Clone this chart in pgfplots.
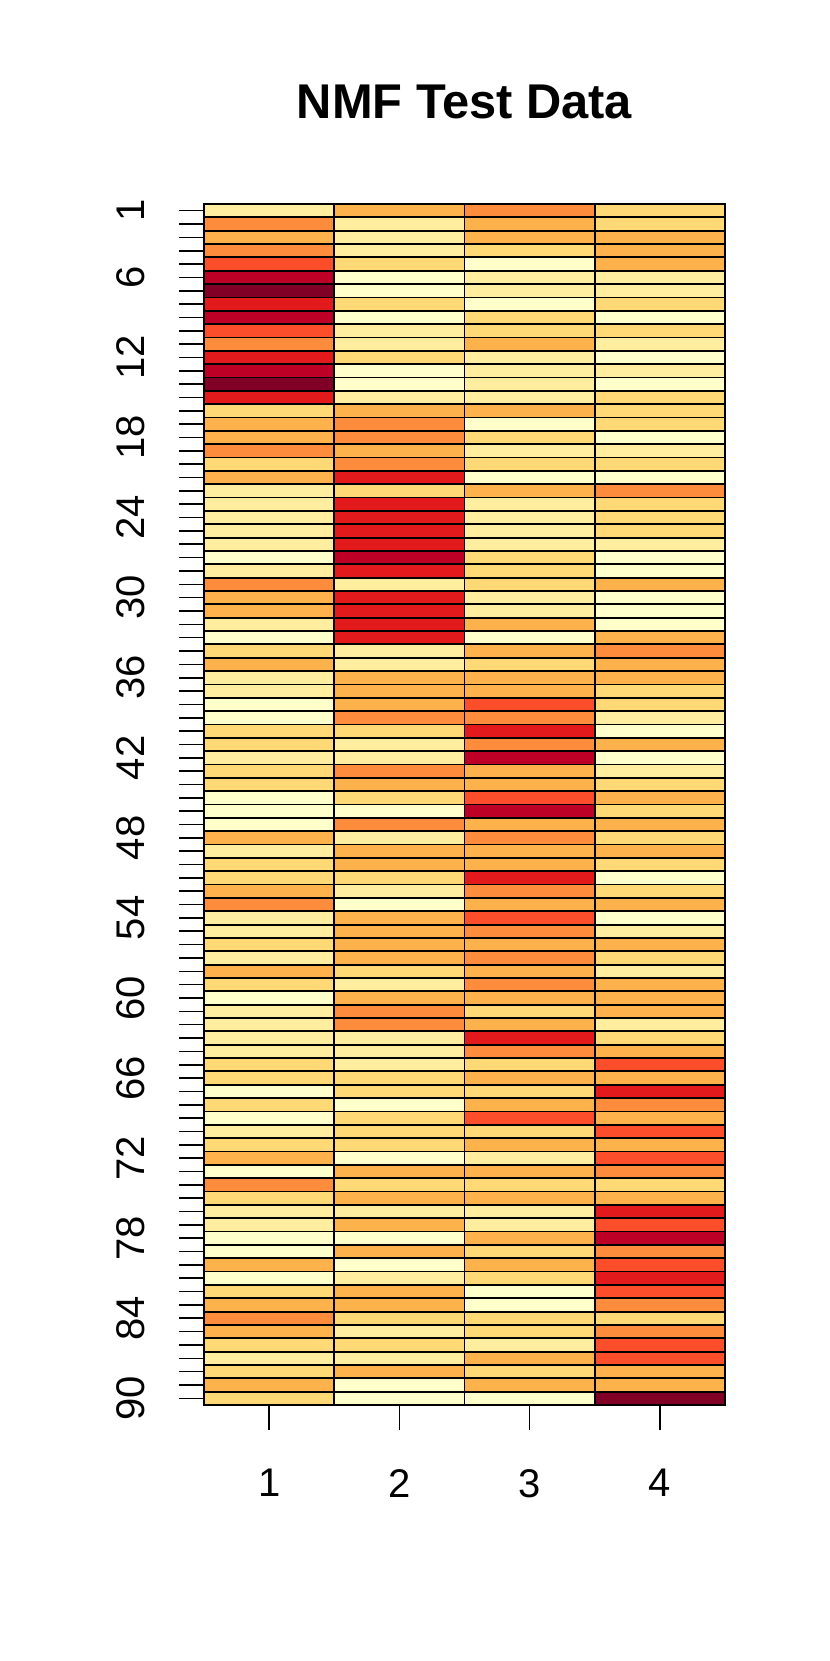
\documentclass[border=0pt]{standalone}
\usepackage{pgfplots}
\pgfplotsset{compat=1.18}
\usepackage{fontspec}
\setmainfont{Liberation Sans}
\begin{document}
\begin{tikzpicture}
\path[use as bounding box] (0,0) rectangle (415bp,830.5bp);
\begin{axis}[
  at={(102bp,128bp)}, anchor=south west,
  scale only axis, width=260.5bp, height=600.5bp,
  xmin=0.5, xmax=4.5, ymin=0.5, ymax=90.5, y dir=reverse,
  enlargelimits=false,
  axis on top,
  tick pos=left, tick align=outside,
  xtick={1,2,3,4},
  ytick={1,6,12,18,24,30,36,42,48,54,60,66,72,78,84,90},
  minor ytick={1,...,90},
  major tick length=12.5bp, minor tick length=12.5bp,
  tick style={black, line width=0.8bp},
  axis line style={black, line width=0.9bp},
  extra x ticks={1.5,2.5,3.5},
  extra y ticks={1.5,2.5,...,89.5},
  extra x tick labels={}, extra y tick labels={},
  extra tick style={grid=major, major tick length=0pt},
  major grid style={black, line width=0.9bp},
  tick label style={font=\fontsize{20bp}{24bp}\selectfont, inner sep=0pt},
  /pgf/number format/assume math mode=true,
  xticklabel shift=19.5bp,
  xticklabel style={anchor=north},
  yticklabel style={rotate=90, anchor=south},
  yticklabel shift=17bp,
  colormap={ylorrd}{rgb255=(255,255,204) rgb255=(255,237,160) rgb255=(254,217,118) rgb255=(254,178,76) rgb255=(253,141,60) rgb255=(252,78,42) rgb255=(227,26,28) rgb255=(189,0,38) rgb255=(128,0,38)},
  point meta min=1, point meta max=9,
  title={NMF Test Data},
  title style={at={(0.5,1)}, anchor=base, yshift=36.7bp, font=\fontsize{24.4bp}{29bp}\selectfont\bfseries},
]
\addplot[matrix plot*, mesh/cols=4, point meta=explicit] coordinates {
(1,1)[2] (2,1)[4] (3,1)[5] (4,1)[3]
(1,2)[5] (2,2)[2] (3,2)[4] (4,2)[3]
(1,3)[4] (2,3)[2] (3,3)[4] (4,3)[4]
(1,4)[5] (2,4)[2] (3,4)[3] (4,4)[4]
(1,5)[6] (2,5)[3] (3,5)[1] (4,5)[4]
(1,6)[8] (2,6)[1] (3,6)[2] (4,6)[2]
(1,7)[9] (2,7)[1] (3,7)[2] (4,7)[2]
(1,8)[7] (2,8)[3] (3,8)[1] (4,8)[3]
(1,9)[8] (2,9)[1] (3,9)[3] (4,9)[1]
(1,10)[6] (2,10)[2] (3,10)[3] (4,10)[3]
(1,11)[5] (2,11)[2] (3,11)[4] (4,11)[2]
(1,12)[7] (2,12)[3] (3,12)[2] (4,12)[1]
(1,13)[8] (2,13)[1] (3,13)[2] (4,13)[2]
(1,14)[9] (2,14)[1] (3,14)[2] (4,14)[1]
(1,15)[7] (2,15)[2] (3,15)[2] (4,15)[3]
(1,16)[3] (2,16)[4] (3,16)[4] (4,16)[3]
(1,17)[4] (2,17)[5] (3,17)[1] (4,17)[3]
(1,18)[4] (2,18)[5] (3,18)[3] (4,18)[1]
(1,19)[5] (2,19)[4] (3,19)[2] (4,19)[2]
(1,20)[3] (2,20)[5] (3,20)[3] (4,20)[3]
(1,21)[4] (2,21)[7] (3,21)[1] (4,21)[1]
(1,22)[2] (2,22)[3] (3,22)[4] (4,22)[5]
(1,23)[2] (2,23)[7] (3,23)[2] (4,23)[3]
(1,24)[2] (2,24)[7] (3,24)[2] (4,24)[3]
(1,25)[2] (2,25)[7] (3,25)[2] (4,25)[3]
(1,26)[2] (2,26)[7] (3,26)[2] (4,26)[2]
(1,27)[1] (2,27)[8] (3,27)[3] (4,27)[1]
(1,28)[2] (2,28)[7] (3,28)[3] (4,28)[1]
(1,29)[5] (2,29)[2] (3,29)[3] (4,29)[4]
(1,30)[4] (2,30)[7] (3,30)[2] (4,30)[1]
(1,31)[4] (2,31)[7] (3,31)[2] (4,31)[1]
(1,32)[2] (2,32)[7] (3,32)[4] (4,32)[1]
(1,33)[1] (2,33)[7] (3,33)[1] (4,33)[4]
(1,34)[3] (2,34)[2] (3,34)[4] (4,34)[5]
(1,35)[4] (2,35)[2] (3,35)[3] (4,35)[4]
(1,36)[2] (2,36)[4] (3,36)[4] (4,36)[4]
(1,37)[2] (2,37)[4] (3,37)[4] (4,37)[3]
(1,38)[1] (2,38)[4] (3,38)[6] (4,38)[3]
(1,39)[1] (2,39)[5] (3,39)[5] (4,39)[2]
(1,40)[3] (2,40)[3] (3,40)[7] (4,40)[1]
(1,41)[3] (2,41)[2] (3,41)[5] (4,41)[4]
(1,42)[2] (2,42)[2] (3,42)[8] (4,42)[1]
(1,43)[3] (2,43)[5] (3,43)[4] (4,43)[2]
(1,44)[3] (2,44)[4] (3,44)[4] (4,44)[3]
(1,45)[1] (2,45)[3] (3,45)[6] (4,45)[4]
(1,46)[1] (2,46)[1] (3,46)[8] (4,46)[3]
(1,47)[1] (2,47)[5] (3,47)[4] (4,47)[4]
(1,48)[4] (2,48)[2] (3,48)[5] (4,48)[3]
(1,49)[2] (2,49)[4] (3,49)[4] (4,49)[4]
(1,50)[3] (2,50)[4] (3,50)[4] (4,50)[3]
(1,51)[3] (2,51)[3] (3,51)[7] (4,51)[1]
(1,52)[4] (2,52)[2] (3,52)[5] (4,52)[3]
(1,53)[5] (2,53)[1] (3,53)[4] (4,53)[4]
(1,54)[2] (2,54)[4] (3,54)[6] (4,54)[1]
(1,55)[2] (2,55)[4] (3,55)[5] (4,55)[2]
(1,56)[3] (2,56)[4] (3,56)[4] (4,56)[4]
(1,57)[2] (2,57)[4] (3,57)[5] (4,57)[3]
(1,58)[4] (2,58)[3] (3,58)[4] (4,58)[2]
(1,59)[3] (2,59)[2] (3,59)[5] (4,59)[4]
(1,60)[1] (2,60)[4] (3,60)[4] (4,60)[4]
(1,61)[2] (2,61)[5] (3,61)[3] (4,61)[4]
(1,62)[2] (2,62)[5] (3,62)[4] (4,62)[2]
(1,63)[2] (2,63)[2] (3,63)[7] (4,63)[3]
(1,64)[2] (2,64)[2] (3,64)[5] (4,64)[4]
(1,65)[3] (2,65)[2] (3,65)[3] (4,65)[6]
(1,66)[3] (2,66)[3] (3,66)[4] (4,66)[4]
(1,67)[1] (2,67)[3] (3,67)[3] (4,67)[7]
(1,68)[3] (2,68)[1] (3,68)[4] (4,68)[5]
(1,69)[1] (2,69)[3] (3,69)[6] (4,69)[4]
(1,70)[2] (2,70)[3] (3,70)[3] (4,70)[6]
(1,71)[3] (2,71)[3] (3,71)[4] (4,71)[4]
(1,72)[4] (2,72)[1] (3,72)[2] (4,72)[6]
(1,73)[1] (2,73)[4] (3,73)[4] (4,73)[5]
(1,74)[5] (2,74)[3] (3,74)[3] (4,74)[3]
(1,75)[3] (2,75)[4] (3,75)[4] (4,75)[4]
(1,76)[2] (2,76)[2] (3,76)[2] (4,76)[7]
(1,77)[2] (2,77)[4] (3,77)[2] (4,77)[6]
(1,78)[1] (2,78)[1] (3,78)[4] (4,78)[8]
(1,79)[1] (2,79)[4] (3,79)[3] (4,79)[5]
(1,80)[4] (2,80)[1] (3,80)[4] (4,80)[6]
(1,81)[1] (2,81)[2] (3,81)[3] (4,81)[7]
(1,82)[3] (2,82)[4] (3,82)[1] (4,82)[6]
(1,83)[4] (2,83)[4] (3,83)[1] (4,83)[5]
(1,84)[5] (2,84)[3] (3,84)[3] (4,84)[3]
(1,85)[4] (2,85)[2] (3,85)[3] (4,85)[5]
(1,86)[3] (2,86)[3] (3,86)[2] (4,86)[6]
(1,87)[2] (2,87)[2] (3,87)[4] (4,87)[6]
(1,88)[3] (2,88)[4] (3,88)[3] (4,88)[4]
(1,89)[4] (2,89)[1] (3,89)[4] (4,89)[4]
(1,90)[3] (2,90)[1] (3,90)[1] (4,90)[9]
};
\end{axis}
\end{tikzpicture}
\end{document}
